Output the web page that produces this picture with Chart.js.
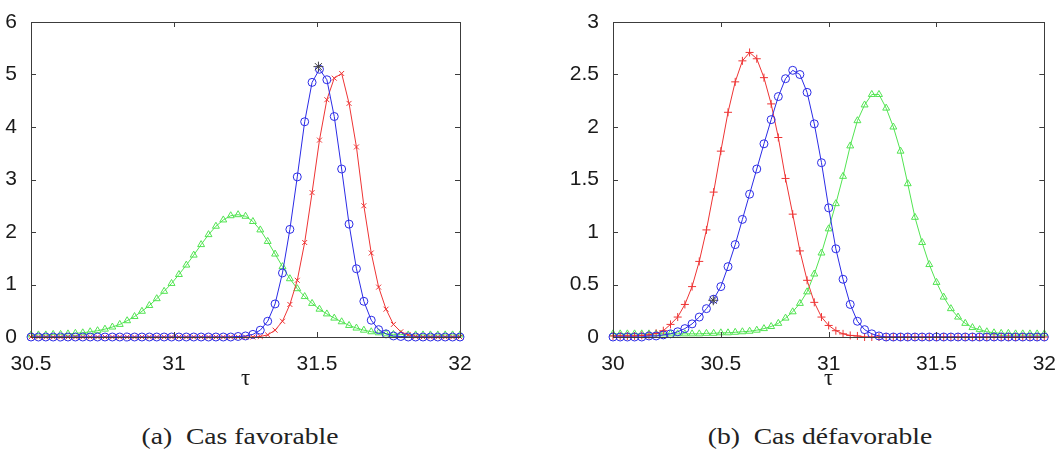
<!DOCTYPE html>
<html>
<head>
<meta charset="utf-8">
<script src="https://cdn.jsdelivr.net/npm/chart.js@4.4.0/dist/chart.umd.min.js"></script>
<style>
  body { margin: 0; background: #fff; width: 1063px; height: 460px; position: relative; overflow: hidden; }
  canvas { position: absolute; top: 0; }
  #chartA { left: 0; }
  #chartB { left: 531px; }
  .cap { position: absolute; top: 424px; font-family: "Liberation Serif", serif; font-size: 23px; color: #222; white-space: pre; transform: translateX(-50%) scaleX(1.2); }
</style>
</head>
<body>
<canvas id="chartA" width="520" height="400"></canvas>
<canvas id="chartB" width="532" height="400"></canvas>
<div class="cap" style="left:240px">(a)  Cas favorable</div>
<div class="cap" style="left:820px">(b)  Cas défavorable</div>
<script>
// (a) Cas favorable : tau from 30.5 to 32
var tauA = [];
for (var i = 0; i < 59; i++) tauA.push(30.5 + i * 1.5 / 58);
var blueA = [0, 0, 0, 0, 0, 0, 0, 0, 0, 0, 0, 0, 0, 0, 0, 0, 0, 0, 0, 0,
    0, 0, 0, 0, 0, 0, 0, 0, 0.01, 0.02, 0.05, 0.13, 0.30, 0.63, 1.22, 2.05, 3.05, 4.10, 4.85, 5.10,
    4.90, 4.20, 3.20, 2.15, 1.30, 0.68, 0.32, 0.14, 0.06, 0.02, 0.01, 0, 0, 0, 0, 0, 0, 0, 0];
var redA = [0, 0, 0, 0, 0, 0, 0, 0, 0, 0, 0, 0, 0, 0, 0, 0, 0, 0, 0, 0,
    0, 0, 0, 0, 0, 0, 0, 0, 0, 0, 0, 0.01, 0.04, 0.13, 0.30, 0.62, 1.08, 1.80, 2.75, 3.75,
    4.52, 4.93, 5.02, 4.45, 3.62, 2.50, 1.60, 0.95, 0.53, 0.24, 0.10, 0.04, 0.01, 0, 0, 0, 0, 0, 0];
var greenA = [0.04, 0.04, 0.04, 0.05, 0.05, 0.06, 0.07, 0.08, 0.10, 0.12, 0.15, 0.19, 0.24, 0.31, 0.39, 0.49, 0.60, 0.73, 0.87, 1.02,
    1.19, 1.37, 1.56, 1.76, 1.95, 2.11, 2.23, 2.31, 2.33, 2.30, 2.20, 2.04, 1.82, 1.58, 1.34, 1.11, 0.92, 0.77, 0.64, 0.53,
    0.44, 0.36, 0.29, 0.22, 0.17, 0.13, 0.10, 0.08, 0.06, 0.05, 0.05, 0.04, 0.04, 0.04, 0.04, 0.04, 0.04, 0.04, 0.04];
var starA = [{x: 31.505, y: 5.15}];
var xTicksA = [30.5, 31, 31.5, 32];
var xLabelsA = ['30.5', '31', '31.5', '32'];
var yTicksA = [0, 1, 2, 3, 4, 5, 6];
var yLabelsA = ['0', '1', '2', '3', '4', '5', '6'];

// (b) Cas défavorable : tau from 30 to 32
var tauB = [];
for (var j = 0; j < 61; j++) tauB.push(30 + j * 2 / 60);
var blueB = [0, 0, 0, 0, 0, 0.01, 0.01, 0.02, 0.03, 0.05, 0.08, 0.125, 0.19, 0.27, 0.36, 0.48, 0.67, 0.88, 1.12, 1.36,
    1.60, 1.84, 2.07, 2.29, 2.46, 2.54, 2.50, 2.33, 2.03, 1.66, 1.23, 0.84, 0.55, 0.31, 0.15, 0.07, 0.03, 0.01, 0, 0,
    0, 0, 0, 0, 0, 0, 0, 0, 0, 0, 0, 0, 0, 0, 0, 0, 0, 0, 0, 0, 0];
var redB = [0.01, 0.01, 0.01, 0.01, 0.015, 0.02, 0.035, 0.06, 0.12, 0.19, 0.31, 0.48, 0.72, 1.02, 1.38, 1.77, 2.14, 2.43, 2.63, 2.71,
    2.65, 2.47, 2.22, 1.90, 1.51, 1.17, 0.82, 0.54, 0.33, 0.19, 0.11, 0.06, 0.03, 0.015, 0.01, 0, 0, 0, 0, 0,
    0, 0, 0, 0, 0, 0, 0, 0, 0, 0, 0, 0, 0, 0, 0, 0, 0, 0, 0, 0, 0];
var greenB = [0.03, 0.03, 0.03, 0.03, 0.03, 0.03, 0.03, 0.03, 0.03, 0.03, 0.03, 0.03, 0.03, 0.035, 0.035, 0.04, 0.04, 0.045, 0.05, 0.055,
    0.065, 0.08, 0.10, 0.13, 0.18, 0.24, 0.32, 0.43, 0.60, 0.80, 1.03, 1.27, 1.53, 1.82, 2.06, 2.21, 2.31, 2.31, 2.18, 2.00,
    1.77, 1.46, 1.14, 0.90, 0.69, 0.52, 0.38, 0.27, 0.19, 0.13, 0.09, 0.07, 0.05, 0.04, 0.035, 0.035, 0.03, 0.03, 0.03, 0.03, 0.03];
var starB = [{x: 30.465, y: 0.35}];
var xTicksB = [30, 30.5, 31, 31.5, 32];
var xLabelsB = ['30', '30.5', '31', '31.5', '32'];
var yTicksB = [0, 0.5, 1, 1.5, 2, 2.5, 3];
var yLabelsB = ['0', '0.5', '1', '1.5', '2', '2.5', '3'];

var BLUE = '#2b2be6', RED = '#ee3434', GREEN = '#52e452', STAR = '#444';

function pts(xs, ys) {
    return ys.map(function (v, k) { return {x: xs[k], y: v}; });
}

function line(data, color, style, r) {
    return {
        data: data,
        borderColor: color,
        backgroundColor: 'rgba(0,0,0,0)',
        borderWidth: 1,
        pointStyle: style,
        pointRadius: r,
        pointBorderWidth: 1,
        pointBorderColor: color,
        pointBackgroundColor: 'rgba(0,0,0,0)',
        tension: 0,
        clip: false
    };
}

// frame with inward ticks on all four sides (matlab box on)
var frame = {
    id: 'frame',
    afterDatasetsDraw: function (chart) {
        var ctx = chart.ctx, a = chart.chartArea, sx = chart.scales.x, sy = chart.scales.y;
        ctx.save();
        ctx.strokeStyle = '#3c3c3c';
        ctx.lineWidth = 1;
        ctx.strokeRect(Math.round(a.left) + 0.5, Math.round(a.top) + 0.5,
            Math.round(a.right - a.left), Math.round(a.bottom - a.top));
        ctx.beginPath();
        sx.ticks.forEach(function (t) {
            var p = Math.round(sx.getPixelForValue(t.value)) + 0.5;
            ctx.moveTo(p, a.bottom); ctx.lineTo(p, a.bottom - 5);
            ctx.moveTo(p, a.top); ctx.lineTo(p, a.top + 5);
        });
        sy.ticks.forEach(function (t) {
            var p = Math.round(sy.getPixelForValue(t.value)) + 0.5;
            ctx.moveTo(a.left, p); ctx.lineTo(a.left + 5, p);
            ctx.moveTo(a.right, p); ctx.lineTo(a.right - 5, p);
        });
        ctx.stroke();
        ctx.restore();
    }
};

function makeChart(id, sets, xmin, xmax, ymax, xTicks, xLabels, yTicks, yLabels, yWidth, padRight) {
    return new Chart(document.getElementById(id), {
        type: 'line',
        data: {datasets: sets},
        options: {
            responsive: false,
            animation: false,
            devicePixelRatio: 1,
            layout: {autoPadding: false, padding: {top: 22, right: padRight, left: 0, bottom: 0}},
            plugins: {legend: {display: false}, tooltip: {enabled: false}},
            scales: {
                x: {
                    type: 'linear', min: xmin, max: xmax,
                    afterBuildTicks: function (s) { s.ticks = xTicks.map(function (v) { return {value: v}; }); },
                    afterFit: function (s) { s.height = 63; },
                    grid: {display: false},
                    border: {display: false},
                    ticks: {
                        color: '#1a1a1a', padding: 7, maxRotation: 0,
                        font: {family: 'Liberation Sans', size: 21},
                        callback: function (v, k) { return xLabels[k]; }
                    },
                    title: {
                        display: true, text: 'τ', color: '#1a1a1a',
                        font: {family: 'Liberation Serif', size: 23},
                        padding: {top: 0, bottom: 7}
                    }
                },
                y: {
                    type: 'linear', min: 0, max: ymax,
                    afterBuildTicks: function (s) { s.ticks = yTicks.map(function (v) { return {value: v}; }); },
                    afterFit: function (s) { s.width = yWidth; },
                    grid: {display: false},
                    border: {display: false},
                    ticks: {
                        color: '#1a1a1a', padding: 6,
                        font: {family: 'Liberation Sans', size: 21},
                        callback: function (v, k) { return yLabels[k]; }
                    }
                }
            }
        },
        plugins: [frame]
    });
}

makeChart('chartA', [
    line(starA, STAR, 'star', 5),
    line(pts(tauA, blueA), BLUE, 'circle', 4),
    line(pts(tauA, redA), RED, 'crossRot', 3.5),
    line(pts(tauA, greenA), GREEN, 'triangle', 4)
], 30.5, 32, 6, xTicksA, xLabelsA, yTicksA, yLabelsA, 31, 60);

makeChart('chartB', [
    line(starB, STAR, 'star', 5),
    line(pts(tauB, blueB), BLUE, 'circle', 4),
    line(pts(tauB, redB), RED, 'cross', 4),
    line(pts(tauB, greenB), GREEN, 'triangle', 4)
], 30, 32, 3, xTicksB, xLabelsB, yTicksB, yLabelsB, 82, 18);
</script>
</body>
</html>
